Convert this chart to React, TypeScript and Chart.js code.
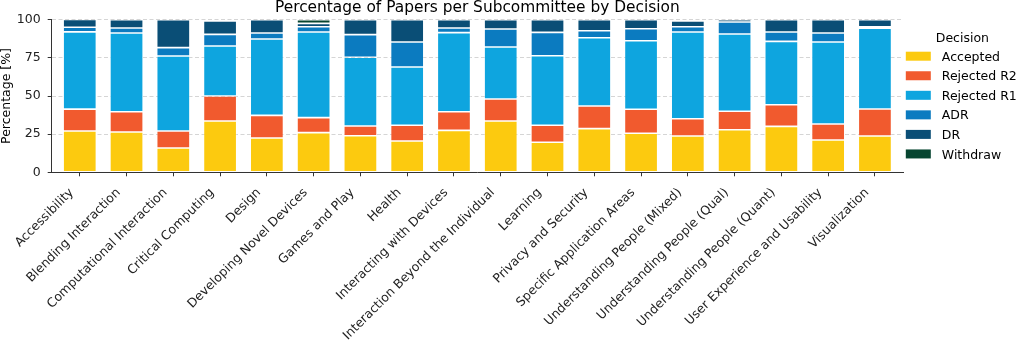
import React, { useEffect, useRef } from "react";
import { Chart, registerables } from "chart.js";

Chart.register(...registerables);

const categories = [
  "Accessibility",
  "Blending Interaction",
  "Computational Interaction",
  "Critical Computing",
  "Design",
  "Developing Novel Devices",
  "Games and Play",
  "Health",
  "Interacting with Devices",
  "Interaction Beyond the Individual",
  "Learning",
  "Privacy and Security",
  "Specific Application Areas",
  "Understanding People (Mixed)",
  "Understanding People (Qual)",
  "Understanding People (Quant)",
  "User Experience and Usability",
  "Visualization",
];

const accepted = [27.1, 26.4, 15.9, 33.6, 22.5, 26.0, 24.0, 20.5, 27.5, 33.6, 19.7, 28.6, 25.6, 23.8, 27.9, 30.1, 21.2, 23.8];
const rejectedR2 = [14.3, 13.3, 11.2, 16.4, 14.8, 9.8, 6.3, 10.3, 12.2, 14.4, 11.1, 14.8, 15.7, 11.3, 12.1, 14.2, 10.5, 17.7];
const rejectedR1 = [50.6, 51.6, 49.1, 32.8, 50.1, 56.1, 45.1, 38.2, 51.8, 34.1, 45.6, 44.8, 44.9, 56.8, 50.6, 41.5, 53.7, 52.9];
const adr = [3.1, 3.3, 5.5, 7.6, 3.9, 3.5, 14.8, 16.4, 3.1, 11.8, 15.3, 4.6, 7.9, 3.5, 7.9, 6.1, 5.9, 1.0];
const dr = [5.0, 5.4, 18.3, 8.7, 8.7, 2.2, 9.8, 14.6, 5.4, 6.1, 8.3, 7.2, 5.9, 3.7, 1.5, 8.1, 8.7, 4.6];
const withdraw = [0, 0, 0, 0.9, 0, 2.4, 0, 0, 0, 0, 0, 0, 0, 0.9, 0, 0, 0, 0];

const seriesNames = ["Accepted", "Rejected R2", "Rejected R1", "ADR", "DR", "Withdraw"];
const seriesColors = ["#FCCA0F", "#F15A2E", "#0EA5DF", "#0B7BC0", "#0A4E76", "#074530"];
const yTicks = [0, 25, 50, 75, 100];
const legendTitle = "Decision";

const FONT = "'DejaVu Sans', sans-serif";
const FS = 12.5;

// Legend drawn on the canvas, positioned relative to the chart area (matplotlib-like "center left" outside the axes)
const sideLegend = {
  id: "sideLegend",
  afterDraw(chart: any) {
    const { ctx, chartArea } = chart;
    const rowH = 19.55;
    const n = chart.data.datasets.length;
    const mid = (chartArea.top + chartArea.bottom) / 2;
    const titleY = mid - 59;
    const firstRow = titleY + 19.2;
    const sx = chartArea.right + 2.8;
    const capHalf = 0.729 * FS / 2;
    ctx.save();
    ctx.font = `${FS}px ${FONT}`;
    ctx.fillStyle = "#000";
    ctx.textBaseline = "alphabetic";
    ctx.textAlign = "center";
    ctx.fillText(legendTitle, sx + 56.6, titleY + capHalf);
    ctx.textAlign = "left";
    for (let i = 0; i < n; i++) {
      const ds = chart.data.datasets[i];
      const cy = firstRow + i * rowH;
      ctx.fillStyle = ds.backgroundColor;
      ctx.fillRect(sx, cy - 4.5, 25, 9);
      ctx.fillStyle = "#000";
      ctx.fillText(ds.label, sx + 36, cy + capHalf);
    }
    ctx.restore();
  },
};

export default function App() {
  const canvasRef = useRef<HTMLCanvasElement | null>(null);

  useEffect(() => {
    if (!canvasRef.current) return;
    const seriesValues = [accepted, rejectedR2, rejectedR1, adr, dr, withdraw];
    const datasets = seriesNames.map((name, si) => ({
      label: name,
      data: seriesValues[si].map((v, i) => ({ x: i, y: v })),
      backgroundColor: seriesColors[si],
      borderColor: "rgba(255,255,255,0.35)",
      borderWidth: 0.8,
      borderSkipped: false,
      barPercentage: 0.89,
      categoryPercentage: 0.8,
    }));

    Chart.defaults.font.family = FONT;

    const chart = new Chart(canvasRef.current, {
      type: "bar",
      data: { datasets },
      plugins: [sideLegend],
      options: {
        animation: false,
        responsive: true,
        maintainAspectRatio: false,
        layout: { padding: { left: 0, top: 0, right: 121, bottom: 0 } },
        plugins: {
          title: {
            display: true,
            text: "Percentage of Papers per Subcommittee by Decision",
            fullSize: false,
            color: "#000",
            font: { size: 15.4, weight: "normal", lineHeight: 1, family: FONT },
            padding: { top: 0, bottom: 4.3 },
          },
          legend: { display: false },
          tooltip: { enabled: false },
        },
        scales: {
          x: {
            type: "linear",
            stacked: true,
            offset: false,
            min: -0.6,
            max: 17.6,
            afterBuildTicks: (scale: any) => {
              scale.ticks = categories.map((_, i) => ({ value: i }));
            },
            afterFit: (scale: any) => {
              scale.height = 170.7;
            },
            ticks: {
              autoSkip: false,
              maxRotation: 45,
              minRotation: 45,
              padding: 9,
              labelOffset: -8,
              color: "#222",
              font: { size: FS, family: FONT },
              callback: (v: any) => categories[Math.round(Number(v))] ?? "",
            },
            grid: {
              display: true,
              offset: false,
              drawOnChartArea: false,
              drawTicks: true,
              tickLength: 4,
              tickColor: "#333",
              tickWidth: 1,
            },
            border: { display: true, color: "#333", width: 1 },
          },
          y: {
            stacked: true,
            min: 0,
            max: 100,
            afterBuildTicks: (scale: any) => {
              scale.ticks = yTicks.map((v) => ({ value: v }));
            },
            afterFit: (scale: any) => {
              scale.width = 51.7;
            },
            ticks: {
              padding: 7,
              color: "#222",
              font: { size: FS, family: FONT },
            },
            title: {
              display: true,
              text: "Percentage [%]",
              color: "#000",
              font: { size: FS, family: FONT, lineHeight: 1 },
              padding: { top: 0, bottom: 0 },
            },
            grid: {
              display: true,
              drawOnChartArea: true,
              drawTicks: true,
              tickLength: 4,
              color: "rgba(180,180,180,0.7)",
              lineWidth: 0.8,
              tickColor: "#333",
              tickWidth: 1,
            },
            border: { display: true, color: "#333", width: 1, dash: [4, 2.5] },
          },
        },
      },
    });
    return () => chart.destroy();
  }, []);

  return (
    <div style={{ position: "absolute", left: 0, top: 0, width: 1024, height: 343 }}>
      <canvas ref={canvasRef} />
    </div>
  );
}
